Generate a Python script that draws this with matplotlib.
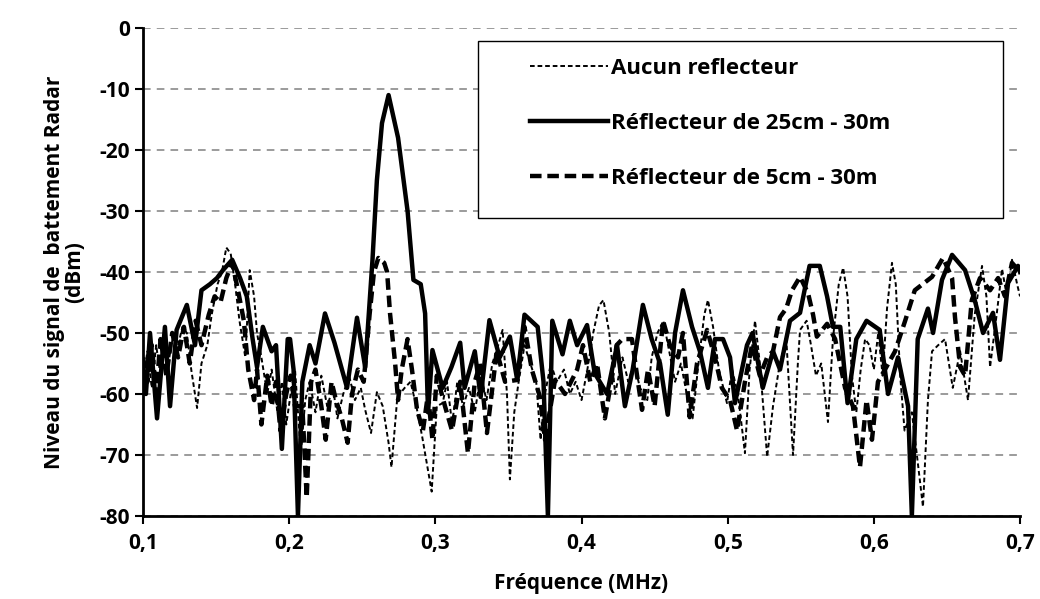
import matplotlib
matplotlib.use("Agg")
import matplotlib.pyplot as plt
from matplotlib.patches import Rectangle

plt.rcParams['font.family'] = ['Open Sans', 'DejaVu Sans']
plt.rcParams['font.weight'] = 'bold'
plt.rcParams['axes.unicode_minus'] = False

# Aucun reflecteur (thin dashed)
f_aucun = [0.100, 0.103, 0.106, 0.109, 0.112, 0.115, 0.118, 0.121, 0.124, 0.127,
           0.130, 0.133, 0.137, 0.140, 0.144, 0.147, 0.151, 0.154, 0.157, 0.160,
           0.163, 0.166, 0.168, 0.170, 0.173, 0.176, 0.178, 0.181, 0.185, 0.188,
           0.192, 0.195, 0.198, 0.201, 0.204, 0.208, 0.211, 0.214, 0.218, 0.222,
           0.226, 0.230, 0.233, 0.237, 0.241, 0.245, 0.249, 0.252, 0.256, 0.260,
           0.264, 0.268, 0.270, 0.274, 0.279, 0.283, 0.287, 0.291, 0.2975, 0.301,
           0.305, 0.308, 0.3115, 0.315, 0.319, 0.323, 0.327, 0.331, 0.335, 0.339,
           0.343, 0.346, 0.349, 0.351, 0.354, 0.357, 0.361, 0.365, 0.369, 0.372,
           0.375, 0.379, 0.383, 0.388, 0.392, 0.396, 0.400, 0.404, 0.408, 0.412,
           0.415, 0.419, 0.423, 0.428, 0.432, 0.436, 0.440, 0.445, 0.448, 0.452,
           0.456, 0.460, 0.464, 0.468, 0.472, 0.476, 0.480, 0.484, 0.4865, 0.490,
           0.494, 0.4995, 0.503, 0.507, 0.5118, 0.515, 0.5187, 0.522, 0.527, 0.531,
           0.535, 0.540, 0.5447, 0.548, 0.5495, 0.554, 0.557, 0.5604, 0.564, 0.5686,
           0.572, 0.576, 0.579, 0.582, 0.585, 0.588, 0.591, 0.594, 0.597, 0.600,
           0.603, 0.606, 0.609, 0.6124, 0.615, 0.618, 0.621, 0.626, 0.6336, 0.637,
           0.6398, 0.644, 0.6487, 0.654, 0.659, 0.6644, 0.669, 0.674, 0.677, 0.6795,
           0.684, 0.6877, 0.691, 0.6945, 0.698, 0.700]
db_aucun = [-58, -53, -59, -52, -57, -51, -54, -50, -52, -49,
            -50, -56, -62.3, -55, -52, -47, -42, -40, -36, -37,
            -42, -48, -51, -54, -39.7, -44, -50, -54, -60, -56,
            -63, -58, -65, -60, -56, -69.7, -61, -58, -63, -57,
            -62, -59, -64, -60, -57, -61, -59, -62.6, -66.4, -59.7,
            -62, -68, -72, -60.5, -59, -58, -62, -67, -76, -62,
            -61.5, -58, -65, -58, -62, -59, -63, -57, -61, -55,
            -52, -49.5, -60, -74, -63, -58, -52, -55, -58, -67.5,
            -60, -55, -58, -56, -60, -58, -61, -56, -50, -45.5,
            -44.6, -50, -60, -54, -58, -55, -59, -61, -54, -50,
            -48, -53, -58, -55, -60, -64, -55, -47, -44.6, -49,
            -56, -61.5, -56, -60, -69.7, -56, -48, -55, -70.3, -62,
            -56, -50.6, -70, -55, -49.5, -48, -52, -57, -55, -64.6,
            -51, -42, -39.3, -44, -57, -63, -56, -51, -52, -56,
            -50, -57, -46, -38.5, -42, -57, -66, -63, -78.5, -61,
            -53, -52, -51, -59, -53, -61, -47, -39, -44, -55.6,
            -47, -39.5, -44, -38, -42, -44]

# Reflecteur de 25cm - 30m (solid)
f_25cm = [0.100, 0.102, 0.1048, 0.1096, 0.115, 0.1185, 0.123, 0.130, 0.1356, 0.140,
          0.1458, 0.1506, 0.1547, 0.161, 0.1664, 0.171, 0.175, 0.178, 0.182, 0.188,
          0.191, 0.195, 0.199, 0.2006, 0.203, 0.206, 0.209, 0.214, 0.218, 0.2245,
          0.231, 0.2396, 0.2464, 0.252, 0.257, 0.260, 0.2635, 0.268, 0.2745, 0.281,
          0.285, 0.290, 0.293, 0.295, 0.298, 0.305, 0.311, 0.317, 0.320, 0.327,
          0.331, 0.337, 0.344, 0.351, 0.356, 0.361, 0.370, 0.374, 0.377, 0.380,
          0.387, 0.392, 0.397, 0.4038, 0.409, 0.4175, 0.4243, 0.4297, 0.435, 0.442,
          0.448, 0.4537, 0.459, 0.464, 0.4694, 0.4756, 0.481, 0.4865, 0.4913, 0.4968,
          0.5016, 0.505, 0.5132, 0.517, 0.524, 0.531, 0.5358, 0.5426, 0.5495, 0.553,
          0.556, 0.563, 0.568, 0.572, 0.577, 0.582, 0.588, 0.595, 0.604, 0.6097,
          0.6165, 0.6234, 0.626, 0.630, 0.637, 0.6405, 0.6466, 0.6535, 0.6624, 0.669,
          0.6747, 0.6815, 0.6863, 0.6918, 0.6986, 0.700]
db_25cm = [-56, -60, -50, -64, -49, -62, -49.5, -45.4, -52, -43,
           -42, -41, -39.7, -38, -41, -44, -51, -55.6, -49, -53,
           -52, -69, -51, -51, -56, -80, -58, -52, -55, -46.8,
           -51.6, -59, -47.5, -55.6, -38, -25, -15.6, -11, -18, -30,
           -41.3, -42, -46.8, -63, -52.8, -59, -55.6, -51.6, -59, -53,
           -60.5, -47.9, -54, -50.6, -57.7, -47, -49, -58, -80, -48,
           -53.5, -48, -52, -48.7, -56.6, -60, -52, -62, -56, -45.4,
           -51, -55, -63.4, -50, -43, -49, -53, -59, -51, -51,
           -54, -61.5, -52, -50, -59, -53, -56, -48, -46.7, -42.5,
           -39, -39, -44, -49, -49, -61.5, -51, -48, -49.5, -60,
           -54, -62, -80, -51, -46, -50, -41.3, -37.2, -39.7, -44.6,
           -50, -46.7, -54.4, -41.8, -39, -40]

# Reflecteur de 5cm - 30m (thick dashed)
f_5cm = [0.100, 0.103, 0.106, 0.109, 0.112, 0.116, 0.120, 0.124, 0.128, 0.132,
         0.136, 0.140, 0.145, 0.149, 0.153, 0.157, 0.161, 0.165, 0.169, 0.172,
         0.176, 0.178, 0.181, 0.185, 0.188, 0.191, 0.194, 0.198, 0.201, 0.204,
         0.209, 0.212, 0.215, 0.218, 0.222, 0.225, 0.229, 0.232, 0.236, 0.240,
         0.243, 0.247, 0.251, 0.255, 0.258, 0.261, 0.265, 0.267, 0.269, 0.2725,
         0.2745, 0.277, 0.281, 0.284, 0.2875, 0.2915, 0.295, 0.298, 0.301, 0.3066,
         0.3114, 0.317, 0.3223, 0.327, 0.3306, 0.3353, 0.342, 0.3477, 0.356, 0.361,
         0.366, 0.3716, 0.375, 0.3819, 0.3887, 0.397, 0.401, 0.406, 0.4106, 0.416,
         0.421, 0.424, 0.428, 0.4345, 0.438, 0.4414, 0.4455, 0.450, 0.4558, 0.4605,
         0.466, 0.4694, 0.474, 0.479, 0.4859, 0.4913, 0.496, 0.5016, 0.5064, 0.5118,
         0.5166, 0.522, 0.527, 0.531, 0.5358, 0.540, 0.544, 0.5495, 0.555, 0.5584,
         0.561, 0.568, 0.5735, 0.5803, 0.5857, 0.5905, 0.595, 0.5987, 0.6028, 0.6076,
         0.6145, 0.6214, 0.628, 0.6398, 0.6473, 0.6535, 0.6555, 0.659, 0.6624, 0.667,
         0.6726, 0.6795, 0.685, 0.6897, 0.6945, 0.700]
db_5cm = [-54, -58, -52, -60, -51, -57, -50, -54, -49, -55,
          -48, -52, -47, -44, -45, -41, -38.5, -43, -48, -56,
          -61, -56, -65, -57, -62, -58, -66, -60, -57, -62,
          -62, -77, -58, -56, -62, -67.5, -58, -61, -64, -68,
          -60, -56, -58, -47, -40, -37.7, -38.5, -40, -46.8, -55,
          -61, -56, -51, -56, -62.6, -66, -60, -67.5, -57, -62,
          -66, -58, -69.7, -58, -55, -66.4, -53, -58, -57.7, -49,
          -56, -60.5, -67.5, -57.7, -60, -56, -52, -58, -55, -64,
          -57, -52, -51, -51, -57, -62.6, -56, -62, -48, -52,
          -54, -50, -63.8, -55, -49.5, -54, -59, -61, -66, -58,
          -52, -57, -54, -53, -47.4, -46, -43, -40.8, -43.5, -47,
          -50.6, -48.5, -51, -59, -62, -72, -61, -67.5, -58, -56,
          -53, -48, -43, -40.8, -37.7, -41, -47.4, -55.6, -57, -44.6,
          -41, -43, -41, -44, -38.5, -40]

yticks = [0, -10, -20, -30, -40, -50, -60, -70, -80]
xticks = [0.1, 0.2, 0.3, 0.4, 0.5, 0.6, 0.7]
xtick_labels = ['0,1', '0,2', '0,3', '0,4', '0,5', '0,6', '0,7']

fig = plt.figure(figsize=(10.4, 5.99), dpi=100)
ax = fig.add_axes([0.1375, 0.1386, 0.8433, 0.8147])

ax.plot(f_aucun, db_aucun, color='black', lw=1.4, ls=(0, (2.4, 1.5)),
        solid_joinstyle='round', dash_joinstyle='round',
        label='Aucun reflecteur')
ax.plot(f_25cm, db_25cm, color='black', lw=3.2, solid_joinstyle='round',
        label='Réflecteur de 25cm - 30m')
ax.plot(f_5cm, db_5cm, color='black', lw=3.2, ls=(0, (2.6, 1.3)),
        dash_joinstyle='round',
        label='Réflecteur de 5cm - 30m')

ax.set_xlim(0.1, 0.7)
ax.set_ylim(-80, 0)
ax.set_xticks(xticks)
ax.set_xticklabels(xtick_labels)
ax.set_yticks(yticks)
ax.yaxis.grid(True, color='#808080', ls=(0, (5, 4)), lw=1.1)
ax.set_axisbelow(True)

for s in ['top', 'right']:
    ax.spines[s].set_visible(False)
for s in ['left', 'bottom']:
    ax.spines[s].set_linewidth(2)
ax.tick_params(axis='both', labelsize=15, width=1.5, length=6, direction='out')
ax.tick_params(axis='x', pad=6)
for lab in ax.get_xticklabels() + ax.get_yticklabels():
    lab.set_fontweight('bold')

ax.set_xlabel('Fréquence (MHz)', fontsize=15, fontweight='bold', labelpad=14)
ax.set_ylabel('Niveau du signal de  battement Radar\n(dBm)', fontsize=15,
              fontweight='bold', labelpad=10, linespacing=0.95)

# legend frame drawn separately (Excel puts a wide margin left of the handles)
ax.add_patch(Rectangle((0.382, 0.6107), 0.5986, 0.3627, transform=ax.transAxes,
                       facecolor='white', edgecolor='black', lw=1, zorder=4))
leg = ax.legend(loc='upper left', bbox_to_anchor=(0.441, 0.938), fontsize=16,
                handlelength=3.5, labelspacing=1.53, borderpad=0,
                frameon=False, borderaxespad=0, handletextpad=0.15)
leg.set_zorder(5)
for t in leg.get_texts():
    t.set_fontweight('bold')

fig.savefig('out.png', dpi=100)
